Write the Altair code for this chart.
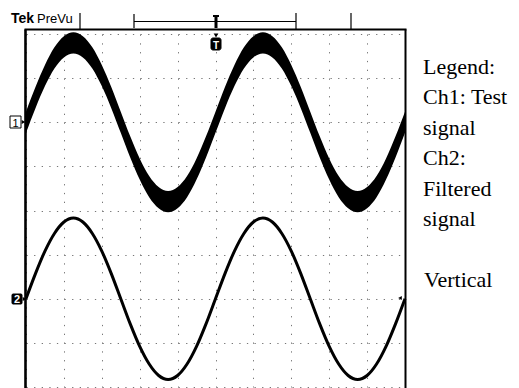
import altair as alt
import pandas as pd

# Time axis in divisions (10 horizontal divisions)
t_div = [0.0, 0.25, 0.5, 0.75, 1.0, 1.25, 1.5, 1.75, 2.0, 2.25,
         2.5, 2.75, 3.0, 3.25, 3.5, 3.75, 4.0, 4.25, 4.5, 4.75,
         5.0, 5.25, 5.5, 5.75, 6.0, 6.25, 6.5, 6.75, 7.0, 7.25,
         7.5, 7.75, 8.0, 8.25, 8.5, 8.75, 9.0, 9.25, 9.5, 9.75, 10.0]

# Ch1 (test signal, noisy) centre of trace, in vertical divisions
ch1 = [2.00, 2.56, 3.06, 3.46, 3.71, 3.80, 3.71, 3.46, 3.06, 2.56,
       2.00, 1.44, 0.94, 0.54, 0.29, 0.20, 0.29, 0.54, 0.94, 1.44,
       2.00, 2.56, 3.06, 3.46, 3.71, 3.80, 3.71, 3.46, 3.06, 2.56,
       2.00, 1.44, 0.94, 0.54, 0.29, 0.20, 0.29, 0.54, 0.94, 1.44, 2.00]

# Ch2 (filtered signal)
ch2 = [-2.00, -1.43, -0.92, -0.52, -0.26, -0.17, -0.26, -0.52, -0.92, -1.43,
       -2.00, -2.57, -3.08, -3.48, -3.74, -3.83, -3.74, -3.48, -3.08, -2.57,
       -2.00, -1.43, -0.92, -0.52, -0.26, -0.17, -0.26, -0.52, -0.92, -1.43,
       -2.00, -2.57, -3.08, -3.48, -3.74, -3.83, -3.74, -3.48, -3.08, -2.57, -2.00]

x_grid = [0, 1, 2, 3, 4, 5, 6, 7, 8, 9, 10]
y_grid = [-4, -3, -2, -1, 0, 1, 2, 3, 4]

legend_lines = ["Legend:", "Ch1: Test", "signal", "Ch2:", "Filtered", "signal"]
legend_extra = "Vertical"

df = pd.DataFrame({"t": t_div, "ch1": ch1, "ch2": ch2})
one = pd.DataFrame({"k": [0]})

xs = alt.Scale(domain=[0, 10], nice=False, zero=False)
ys = alt.Scale(domain=[-4, 4], nice=False, zero=False)


def x_axis():
    return alt.Axis(values=x_grid, grid=True, labels=False, ticks=False, domain=False,
                    title=None, gridDash=[1.3, 7.5], gridColor="#777777", gridWidth=1,
                    gridOpacity=1)


def y_axis():
    return alt.Axis(values=y_grid, grid=True, labels=False, ticks=False, domain=False,
                    title=None, gridDash=[1.3, 6.3], gridColor="#777777", gridWidth=1,
                    gridOpacity=1)


NOISE = 0.24

ch1_band = alt.Chart(df).transform_calculate(
    hi=f"datum.ch1 + {NOISE}", lo=f"datum.ch1 - {NOISE}"
).mark_area(color="black", interpolate="monotone").encode(
    x=alt.X("t:Q", scale=xs, axis=x_axis()),
    y=alt.Y("hi:Q", scale=ys, axis=y_axis()),
    y2="lo:Q",
)

ch2_line = alt.Chart(df).mark_line(color="black", strokeWidth=3, interpolate="monotone").encode(
    x=alt.X("t:Q", scale=xs, axis=x_axis()),
    y=alt.Y("ch2:Q", scale=ys, axis=y_axis()),
)


def rule(x1, x2, y1, y2, w=1.0):
    return alt.Chart(one).mark_rule(color="black", strokeWidth=w).encode(
        x=alt.value(x1), x2=alt.value(x2), y=alt.value(y1), y2=alt.value(y2))


def text(s, x, y, size, font="Liberation Sans", weight="normal", color="black", align="left", baseline="alphabetic"):
    return alt.Chart(one).mark_text(text=s, font=font, fontSize=size, fontWeight=weight,
                                    color=color, align=align, baseline=baseline).encode(
        x=alt.value(x), y=alt.value(y))


def rect(x1, x2, y1, y2, fill, stroke="black", sw=1.0, r=0):
    return alt.Chart(one).mark_rect(fill=fill, stroke=stroke, strokeWidth=sw, cornerRadius=r).encode(
        x=alt.value(x1), x2=alt.value(x2), y=alt.value(y1), y2=alt.value(y2))


def tri(shape, x, y, size):
    return alt.Chart(one).mark_point(shape=shape, filled=True, color="black", size=size, opacity=1).encode(
        x=alt.value(x), y=alt.value(y))


decor = [
    # frame
    rule(-1.5, 380.5, -4.5, -4.5, 2.2),
    rule(-0.5, -0.5, -4.5, 356, 2.6),
    rule(379.5, 379.5, -4.5, 356, 2.0),
    # header
    text("Tek", -15, -11, 14, weight="bold"),
    text("PreVu", 11, -11, 13),
    rule(54, 54, -21, -4, 1.2),
    rule(108, 270, -12.5, -12.5, 1.2),
    rule(108, 108, -20, -6, 1.2),
    rule(270, 270, -21, -5, 1.2),
    rule(325, 325, -21, -4, 1.2),
    # trigger marker above frame
    rule(187, 193, -18, -18, 2),
    rule(190, 190, -18, -6, 3),
    # trigger marker below frame
    tri("triangle-down", 190, 1.5, 22),
    rect(185, 195, 4, 16, "black", r=2),
    text("T", 190, 14.5, 10, weight="bold", color="white", align="center"),
    # channel 1 marker
    rect(-16, -5, 82, 94, "white", sw=1),
    text("1", -10.5, 92.5, 11, align="center"),
    tri("triangle-right", -2.5, 88, 18),
    # channel 2 marker
    rect(-14, -4, 260, 270, "black", r=1),
    text("2", -9, 269, 11, weight="bold", color="white", align="center"),
    tri("triangle-right", -1.5, 265, 18),
    # right side ch2 marker
    tri("triangle-left", 374, 264, 18),
]

legend = alt.Chart(one).mark_text(
    text=legend_lines, font="Liberation Serif", fontSize=22, color="black",
    align="left", baseline="alphabetic", lineHeight=30.4
).encode(x=alt.value(397), y=alt.value(40))

legend2 = text(legend_extra, 398, 253, 22, font="Liberation Serif")

chart = alt.layer(ch1_band, ch2_line, *decor, legend, legend2).properties(
    width=379, height=353,
    padding={"left": 26, "top": 34, "right": 114, "bottom": 1},
    autosize=alt.AutoSizeParams(type="none"),
    background="white",
).configure_view(stroke="transparent")

chart.save("out.html", embed_options={"renderer": "svg", "actions": False})
